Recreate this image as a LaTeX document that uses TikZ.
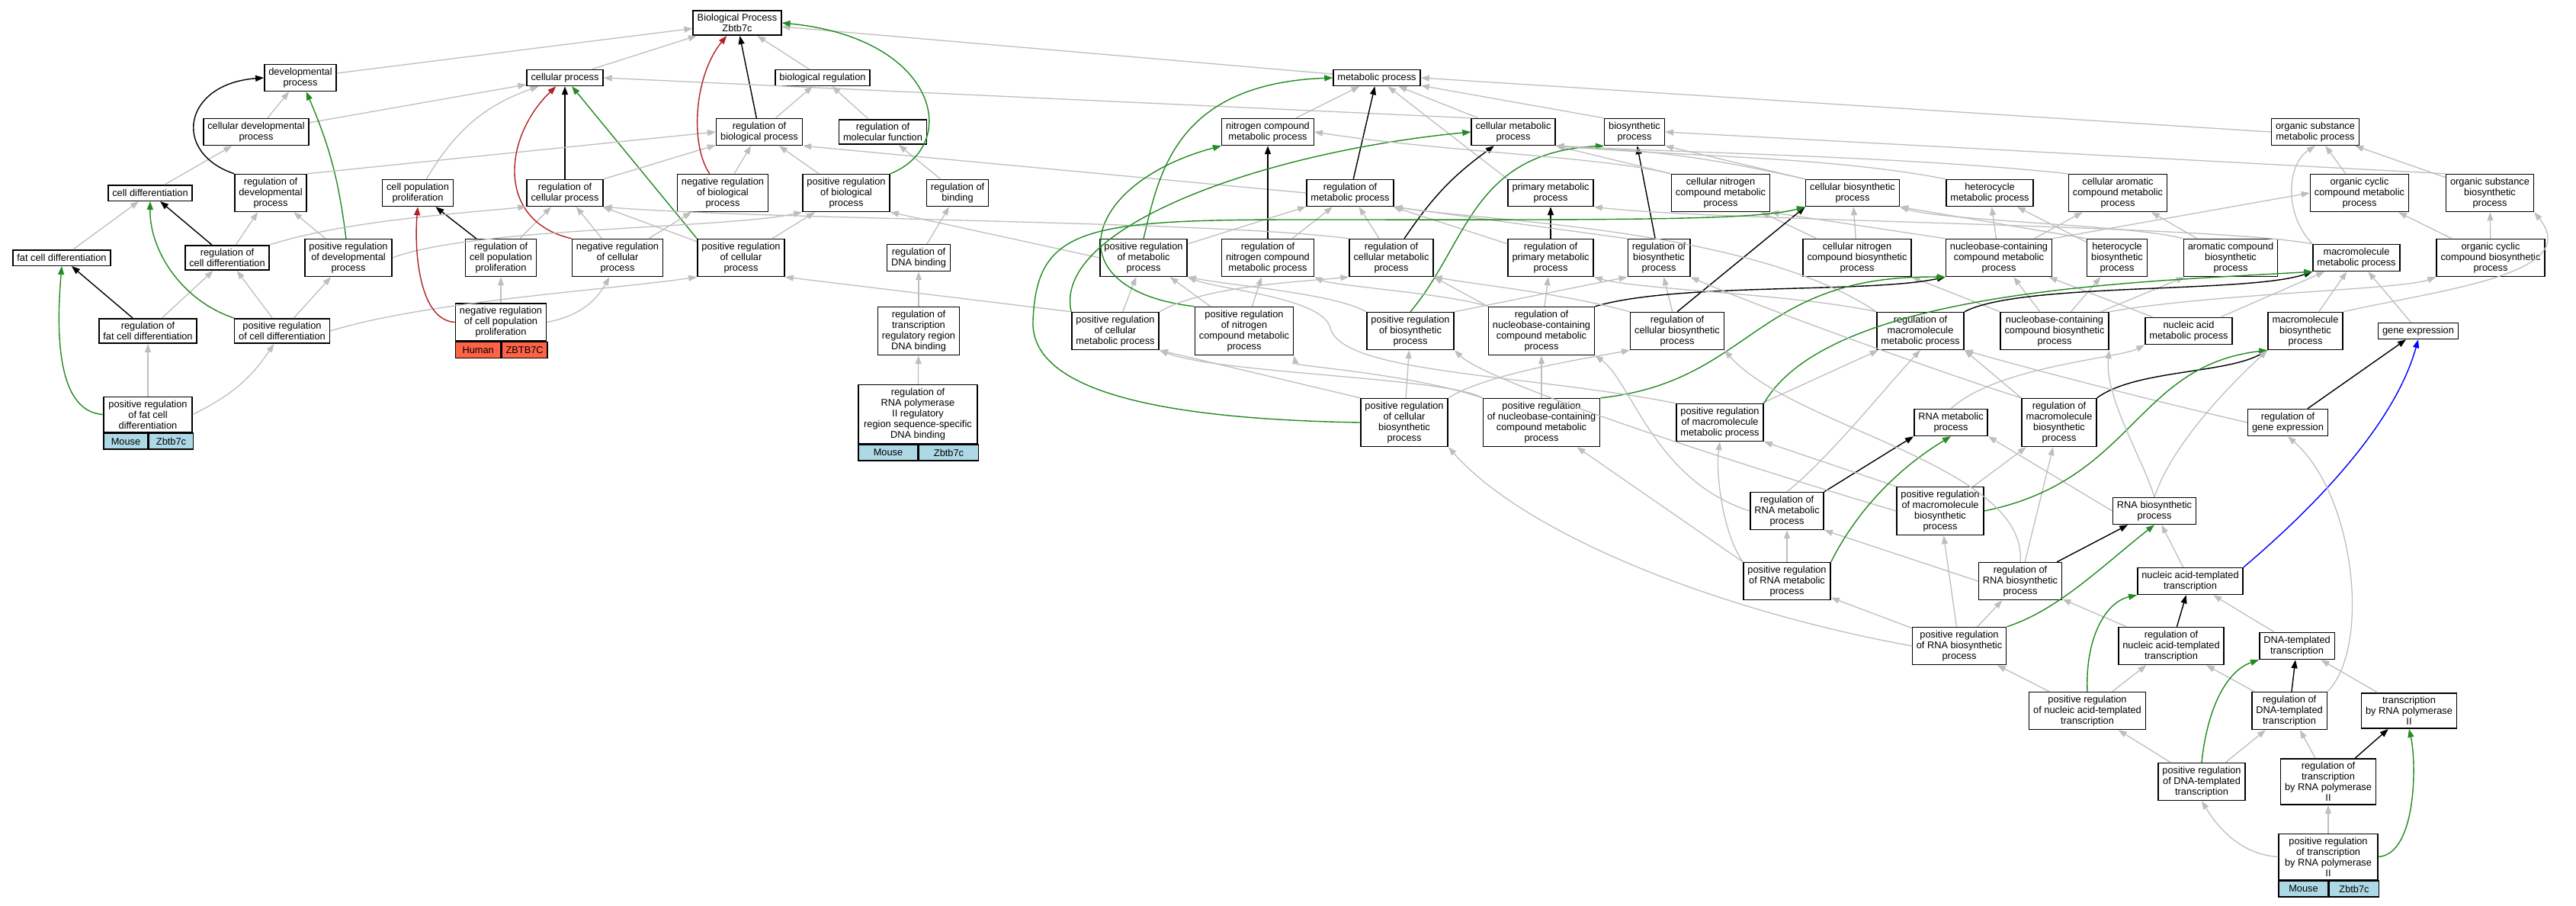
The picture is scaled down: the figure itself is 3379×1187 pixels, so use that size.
\documentclass[tikz,border=0pt]{standalone}
\usepackage{fontspec}
\setmainfont{Liberation Sans}
\usepackage{tikz}
\usetikzlibrary{arrows.meta}
\definecolor{isagray}{RGB}{190,190,190}
\definecolor{posgreen}{RGB}{34,139,34}
\definecolor{negred}{RGB}{178,34,34}
\definecolor{mouse}{RGB}{173,216,230}
\definecolor{human}{RGB}{255,99,71}

\begin{document}
\begin{tikzpicture}[->,>={Triangle[length=11pt,width=8pt]},x=1pt,y=1pt,node distance=150pt]
 \tikzstyle{goterm}=[draw=black,line width=1.5pt,fill=white,rectangle,align=center,inner xsep=5.5pt,inner ysep=4.5pt,minimum height=20.5pt,font=\fontsize{12.8}{14}\selectfont]
 \tikzstyle{taxon}=[draw=black,line width=1.5pt,anchor=north west,minimum height=21pt,inner sep=0pt,font=\fontsize{12.8}{14}\selectfont]
 \tikzstyle{isa}=[draw=isagray,line width=1.3pt]
 \tikzstyle{regl}=[draw=black,line width=1.4pt]
 \tikzstyle{posr}=[draw=posgreen,line width=1.4pt]
 \tikzstyle{negr}=[draw=negred,line width=1.4pt]
 \tikzstyle{prtof}=[draw=blue,line width=1.4pt]

 \useasboundingbox (0,0) rectangle (3379,-1187);

 \node[goterm] (bp) at (967,-30) {Biological Process\\Zbtb7c};

 \node[goterm] (devp) at (394,-102) {developmental\\process};
 \node[goterm] (cellp) [right of=devp, node distance=347pt] {cellular process};
 \node[goterm] (bioreg) [right of=cellp, node distance=338pt] {biological regulation};
 \node[goterm] (metp) [right of=bioreg, node distance=727pt] {metabolic process};

 \node[goterm] (celldev) at (336,-173) {cellular developmental\\process};
 \node[goterm] (regbp) [right of=celldev, node distance=660pt] {regulation of\\biological process};
 \node[goterm] (regmf) [right of=regbp, node distance=162pt] {regulation of\\molecular function};
 \node[goterm] (nitro) [right of=regmf, node distance=505pt] {nitrogen compound\\metabolic process};
 \node[goterm] (cmet) [right of=nitro, node distance=322pt] {cellular metabolic\\process};
 \node[goterm] (biosyn) [right of=cmet, node distance=159pt] {biosynthetic\\process};
 \node[goterm] (orgsub) [right of=biosyn, node distance=893pt] {organic substance\\metabolic process};

 \node[goterm] (celldiff) at (197,-253) {cell differentiation};
 \node[goterm] (regdev) [right of=celldiff, node distance=158pt] {regulation of\\developmental\\process};
 \node[goterm] (cpp) [right of=regdev, node distance=193pt] {cell population\\proliferation};
 \node[goterm] (regcp) [right of=cpp, node distance=193pt] {regulation of\\cellular process};
 \node[goterm] (negbp) [right of=regcp, node distance=207pt] {negative regulation\\of biological\\process};
 \node[goterm] (posbp) [right of=negbp, node distance=162pt] {positive regulation\\of biological\\process};
 \node[goterm] (regbind) [right of=posbp, node distance=146pt] {regulation of\\binding};
 \node[goterm] (regmet) [right of=regbind, node distance=515pt] {regulation of\\metabolic process};
 \node[goterm] (primet) [right of=regmet, node distance=263pt] {primary metabolic\\process};
 \node[goterm] (cnitro) [right of=primet, node distance=223pt] {cellular nitrogen\\compound metabolic\\process};
 \node[goterm] (cbiosyn) [right of=cnitro, node distance=173pt] {cellular biosynthetic\\process};
 \node[goterm] (hetmet) [right of=cbiosyn, node distance=180pt] {heterocycle\\metabolic process};
 \node[goterm] (caromet) [right of=hetmet, node distance=168pt] {cellular aromatic\\compound metabolic\\process};
 \node[goterm] (orgcyc) [right of=caromet, node distance=317pt] {organic cyclic\\compound metabolic\\process};
 \node[goterm] (orgsubbio) [right of=orgcyc, node distance=171pt] {organic substance\\biosynthetic\\process};

 \node[goterm] (fcd) at (81,-338) {fat cell differentiation};
 \node[goterm] (regcd) [right of=fcd, node distance=217pt] {regulation of\\cell differentiation};
 \node[goterm] (posdev) [right of=regcd, node distance=159pt] {positive regulation\\of developmental\\process};
 \node[goterm] (regcpp) [right of=posdev, node distance=200pt] {regulation of\\cell population\\proliferation};
 \node[goterm] (negcp) [right of=regcpp, node distance=153pt] {negative regulation\\of cellular\\process};
 \node[goterm] (poscp) [right of=negcp, node distance=162pt] {positive regulation\\of cellular\\process};
 \node[goterm] (regdnab) [right of=poscp, node distance=233pt] {regulation of\\DNA binding};
 \node[goterm] (posmet) [right of=regdnab, node distance=295pt] {positive regulation\\of metabolic\\process};
 \node[goterm] (regnitro) [right of=posmet, node distance=163pt] {regulation of\\nitrogen compound\\metabolic process};
 \node[goterm] (regcmet) [right of=regnitro, node distance=162pt] {regulation of\\cellular metabolic\\process};
 \node[goterm] (regprim) [right of=regcmet, node distance=209pt] {regulation of\\primary metabolic\\process};
 \node[goterm] (regbio) [right of=regprim, node distance=142pt] {regulation of\\biosynthetic\\process};
 \node[goterm] (cnitrobio) [right of=regbio, node distance=260pt] {cellular nitrogen\\compound biosynthetic\\process};
 \node[goterm] (ncm) [right of=cnitrobio, node distance=186pt] {nucleobase-containing\\compound metabolic\\process};
 \node[goterm] (hetbio) [right of=ncm, node distance=155pt] {heterocycle\\biosynthetic\\process};
 \node[goterm] (arobio) [right of=hetbio, node distance=149pt] {aromatic compound\\biosynthetic\\process};
 \node[goterm] (macmet) [right of=arobio, node distance=165pt] {macromolecule\\metabolic process};
 \node[goterm] (orgcycbio) [right of=macmet, node distance=176pt] {organic cyclic\\compound biosynthetic\\process};

 \node[goterm] (regfcd) at (194,-434) {regulation of\\fat cell differentiation};
 \node[goterm] (poscd) [right of=regfcd, node distance=176pt] {positive regulation\\of cell differentiation};
 \node[goterm,minimum width=119pt] (negcpp) at (657,-422.5) {negative regulation\\of cell population\\proliferation};
 \node[taxon,fill=human,minimum width=59.5pt] (negcppsp) at (negcpp.south west) {Human};
 \node[taxon,fill=human,minimum width=59.5pt] (negcppgn) at (negcppsp.north east) {ZBTB7C};
 \node[goterm] (regtrbind) at (1205,-434) {regulation of\\transcription\\regulatory region\\DNA binding};
 \node[goterm] (poscmet) [right of=regtrbind, node distance=258pt] {positive regulation\\of cellular\\metabolic process};
 \node[goterm] (posnitro) [right of=poscmet, node distance=169pt] {positive regulation\\of nitrogen\\compound metabolic\\process};
 \node[goterm] (posbio) [right of=posnitro, node distance=218pt] {positive regulation\\of biosynthetic\\process};
 \node[goterm] (regncm) [right of=posbio, node distance=172pt] {regulation of\\nucleobase-containing\\compound metabolic\\process};
 \node[goterm] (regcbio) [right of=regncm, node distance=178pt] {regulation of\\cellular biosynthetic\\process};
 \node[goterm] (regmacmet) [right of=regcbio, node distance=319pt] {regulation of\\macromolecule\\metabolic process};
 \node[goterm] (ncmbio) [right of=regmacmet, node distance=176pt] {nucleobase-containing\\compound biosynthetic\\process};
 \node[goterm] (nucmet) [right of=ncmbio, node distance=176pt] {nucleic acid\\metabolic process};
 \node[goterm] (macbio) [right of=nucmet, node distance=153pt] {macromolecule\\biosynthetic\\process};
 \node[goterm] (geneexp) [right of=macbio, node distance=148pt] {gene expression};

 \node[goterm,minimum width=116pt] (posfcd) at (194,-543.5) {positive regulation\\of fat cell\\differentiation};
 \node[taxon,fill=mouse,minimum width=58pt] (posfcdsp) at (posfcd.south west) {Mouse};
 \node[taxon,fill=mouse,minimum width=58pt] (posfcdgn) at (posfcdsp.north east) {Zbtb7c};
 \node[goterm,minimum width=156pt] (regpol) at (1204,-543) {regulation of\\RNA polymerase\\II regulatory\\region sequence-specific\\DNA binding};
 \node[taxon,fill=mouse,minimum width=78pt] (regpolsp) at (regpol.south west) {Mouse};
 \node[taxon,fill=mouse,minimum width=78pt] (regpolgn) at (regpolsp.north east) {Zbtb7c};
 \node[goterm] (poscbio) at (1842,-554) {positive regulation\\of cellular\\biosynthetic\\process};
 \node[goterm] (posncm) [right of=poscbio, node distance=180pt] {positive regulation\\of nucleobase-containing\\compound metabolic\\process};
 \node[goterm] (posmacmet) [right of=posncm, node distance=234pt] {positive regulation\\of macromolecule\\metabolic process};
 \node[goterm] (rnamet) [right of=posmacmet, node distance=303pt] {RNA metabolic\\process};
 \node[goterm] (regmacbio) [right of=rnamet, node distance=142pt] {regulation of\\macromolecule\\biosynthetic\\process};
 \node[goterm] (reggene) [right of=regmacbio, node distance=300pt] {regulation of\\gene expression};

 \node[goterm] (regrnamet) at (2344,-670) {regulation of\\RNA metabolic\\process};
 \node[goterm] (posmacbio) [right of=regrnamet, node distance=201pt] {positive regulation\\of macromolecule\\biosynthetic\\process};
 \node[goterm] (rnabio) [right of=posmacbio, node distance=281pt] {RNA biosynthetic\\process};

 \node[goterm] (posrnamet) [below of=regrnamet, node distance=92pt] {positive regulation\\of RNA metabolic\\process};
 \node[goterm] (regrnabio) [right of=posrnamet, node distance=306pt] {regulation of\\RNA biosynthetic\\process};
 \node[goterm] (natr) [right of=regrnabio, node distance=223pt] {nucleic acid-templated\\transcription};

 \node[goterm] (posrnabio) at (2570,-847) {positive regulation\\of RNA biosynthetic\\process};
 \node[goterm] (regnatr) [right of=posrnabio, node distance=278pt] {regulation of\\nucleic acid-templated\\transcription};
 \node[goterm] (dnatr) [right of=regnatr, node distance=165pt] {DNA-templated\\transcription};

 \node[goterm] (posnatr) at (2738,-932) {positive regulation\\of nucleic acid-templated\\transcription};
 \node[goterm] (regdnatr) [right of=posnatr, node distance=265pt] {regulation of\\DNA-templated\\transcription};
 \node[goterm] (trpol) [right of=regdnatr, node distance=157pt] {transcription\\by RNA polymerase\\II};

 \node[goterm] (posdnatr) at (2888,-1025) {positive regulation\\of DNA-templated\\transcription};
 \node[goterm] (regtrpol) [right of=posdnatr, node distance=166pt] {regulation of\\transcription\\by RNA polymerase\\II};

 \node[goterm,minimum width=130pt] (postrpol) [below of=regtrpol, node distance=98.5pt] {positive regulation\\of transcription\\by RNA polymerase\\II};
 \node[taxon,fill=mouse,minimum width=65pt] (postrpolsp) at (postrpol.south west) {Mouse};
 \node[taxon,fill=mouse,minimum width=65pt] (postrpolgn) at (postrpolsp.north east) {Zbtb7c};

 \path[->]
   (devp) edge[isa] (bp)
   (cellp) edge[isa] (bp)
   (bioreg) edge[isa] (bp)
   (metp) edge[isa] (bp)
   (regbp) edge[regl] (bp)
   (celldev) edge[isa] (devp)
   (celldev) edge[isa] (cellp)
   (posdev) edge[posr,bend right=8] (devp)
   (cpp) edge[isa,bend left=20] (cellp)
   (regcp) edge[regl] (cellp)
   (poscp.north west) edge[posr] (cellp)
   (cmet.north west) edge[isa] (cellp.east)
   (regbp) edge[isa] (bioreg)
   (regmf) edge[isa] (bioreg)
   (celldiff) edge[isa] (celldev)
   (regdev.north east) edge[isa] (regbp.west)
   (regcp.north east) edge[isa] (regbp)
   (negbp) edge[isa] (regbp)
   (posbp) edge[isa] (regbp)
   (regmet.west) edge[isa] (regbp.south east)
   (regbind) edge[isa] (regmf)
   (fcd) edge[isa] (celldiff)
   (regcd) edge[regl] (celldiff)
   (regcd) edge[isa] (regdev)
   (posdev) edge[isa] (regdev)
   (regcpp) edge[regl] (cpp)
   (regcpp) edge[isa] (regcp)
   (negcp) edge[isa] (regcp)
   (negcp) edge[isa] (negbp)
   (poscp) edge[isa] (regcp)
   (poscp) edge[isa] (posbp)
   (regdnab) edge[isa] (regbind)
   (regfcd) edge[regl] (fcd)
   (regfcd) edge[isa] (regcd)
   (poscd) edge[isa] (regcd)
   (poscd) edge[isa] (posdev)
   (negcpp) edge[isa] (regcpp)
   (negcpp.east) edge[isa,bend right=25] (negcp)
   (posfcd) edge[isa] (regfcd)
   (posfcd.east) edge[isa,bend right=15] (poscd)
   (regtrbind) edge[isa] (regdnab)
   (regpol) edge[isa] (regtrbind);

 \draw[negr] (negbp) .. controls (905,-190) and (910,-100) .. (bp);
 \draw[posr] (posbp.north east) .. controls (1262,-190) and (1230,-50) .. (bp.east);
 \draw[regl] (regdev.north west) .. controls (225,-200) and (240,-110) .. (devp.west);
 \draw[negr] (negcp.north west) .. controls (650,-290) and (660,-180) .. (cellp);
 \draw[isa] (regcd.north east) .. controls (450,-290) and (600,-280) .. (regcp.south west);
 \draw[posr] (poscd.north west) .. controls (240,-395) and (196,-330) .. (celldiff.south);
 \draw[isa] (posdev.east) .. controls (620,-298) and (950,-300) .. (posbp.south west);
 \draw[isa] (poscd.east) .. controls (560,-395) and (800,-380) .. (poscp.south west);
 \draw[negr] (negcpp.west) .. controls (550,-420) and (543,-330) .. (cpp.south);
 \draw[posr] (posfcd.west) .. controls (70,-540) and (75,-420) .. (fcd.south);

 \path[->]
   (nitro) edge[isa] (metp)
   (regmet) edge[regl] (metp)
   (primet.north west) edge[isa] (metp)
   (cmet) edge[isa] (metp)
   (biosyn.north west) edge[isa] (metp)
   (orgsub.west) edge[isa] (metp.east)
   (regnitro) edge[regl] (nitro)
   (regcmet) edge[regl,bend left=10] (cmet)
   (regbio) edge[regl] (biosyn)
   (cnitro.north west) edge[isa] (cmet.south east)
   (cbiosyn.north west) edge[isa] (biosyn.south east)
   (cbiosyn.north west) edge[isa,bend right=5] (cmet.south east)
   (orgsubbio.north west) edge[isa] (biosyn.east)
   (orgsubbio) edge[isa] (orgsub)
   (orgcyc) edge[isa] (orgsub)
   (regprim) edge[regl] (primet)
   (posmet) edge[isa] (regmet)
   (posmet.west) edge[isa] (posbp.south east)
   (regnitro) edge[isa] (regmet)
   (regcmet) edge[isa] (regmet)
   (regprim) edge[isa] (regmet)
   (regbio.north west) edge[isa] (regmet.south east)
   (cnitrobio) edge[isa] (cnitro)
   (cnitrobio) edge[isa] (cbiosyn)
   (ncm.north west) edge[isa] (cnitro.south east)
   (ncm) edge[isa] (hetmet)
   (ncm) edge[isa] (caromet)
   (ncm.north east) edge[isa] (orgcyc.west)
   (hetbio) edge[isa] (hetmet)
   (hetbio.north west) edge[isa] (cbiosyn.south east)
   (arobio) edge[isa] (caromet)
   (orgcycbio) edge[isa] (orgcyc)
   (orgcycbio) edge[isa] (orgsubbio)
   (poscmet) edge[isa] (posmet)
   (poscmet.north west) edge[isa] (poscp.south east)
   (posnitro) edge[isa] (regnitro)
   (posnitro) edge[isa] (posmet)
   (posbio.north east) edge[isa] (regbio.south west)
   (regncm.north west) edge[isa] (regcmet.south east)
   (regncm) edge[isa] (regprim)
   (regcbio) edge[isa] (regbio)
   (regcbio.north) edge[regl] (cbiosyn.south west)
   (ncmbio) edge[isa] (ncm)
   (ncmbio) edge[isa] (hetbio)
   (ncmbio) edge[isa] (arobio)
   (ncmbio.north west) edge[isa] (cnitrobio.south east)
   (nucmet) edge[isa] (ncm)
   (nucmet) edge[isa] (macmet)
   (macbio) edge[isa] (macmet)
   (geneexp) edge[isa] (macmet);

 \draw[posr] (posmet.north) .. controls (1520,-230) and (1540,-110) .. (metp.west);
 \draw[posr] (posnitro.north west) .. controls (1380,-380) and (1420,-240) .. (nitro.south west);
 \draw[posr] (poscmet.north west) .. controls (1380,-300) and (1650,-200) .. (cmet.west);
 \draw[posr] (posbio.north) .. controls (1925,-320) and (1930,-200) .. (biosyn.south west);
 \draw[isa] (cnitro.north west) .. controls (2100,-205) and (1900,-200) .. (nitro.east);
 \draw[isa] (hetmet.north west) .. controls (2400,-205) and (2200,-205) .. (cmet.south east);
 \draw[isa] (caromet.north west) .. controls (2500,-205) and (2200,-200) .. (cmet.south east);
 \draw[isa] (macmet.north west) .. controls (2900,-295) and (2250,-290) .. (primet.south east);
 \draw[isa] (macmet.north west) .. controls (2995,-280) and (3000,-215) .. (orgsub.south);
 \draw[isa] (regcmet.north west) .. controls (1600,-290) and (1000,-288) .. (regcp.south east);
 \draw[isa] (arobio.north west) .. controls (2800,-295) and (2550,-290) .. (cbiosyn.south east);
 \draw[isa] (poscmet.north east) .. controls (1580,-375) and (1700,-370) .. (regcmet.south west);
 \draw[isa] (posbio.north west) .. controls (1750,-385) and (1620,-375) .. (posmet.south east);
 \draw[regl] (regncm.north east) .. controls (2200,-370) and (2450,-385) .. (ncm.south west);
 \draw[isa] (regncm.north west) .. controls (1900,-385) and (1750,-375) .. (regnitro.south east);
 \draw[isa] (regcbio.north west) .. controls (2050,-385) and (1950,-375) .. (regcmet.south east);
 \draw[regl] (regmacmet.north east) .. controls (2650,-370) and (2950,-385) .. (macmet.south west);
 \draw[isa] (regmacmet.north west) .. controls (2350,-385) and (2150,-380) .. (regprim.south east);
 \draw[isa] (regmacmet.north west) .. controls (2300,-300) and (1950,-290) .. (regmet.south east);
 \draw[isa] (ncmbio.north east) .. controls (2900,-385) and (3150,-380) .. (orgcycbio.south west);
 \draw[isa] (macbio.north east) .. controls (3200,-380) and (3390,-360) .. (orgsubbio.south east);

 \path[->]
   (poscbio) edge[isa] (posbio)
   (poscbio.north west) edge[isa] (poscmet.south east)
   (posncm) edge[isa] (regncm)
   (posmacmet) edge[isa] (regmacmet)
   (regmacbio.north west) edge[isa] (regmacmet.south east)
   (reggene) edge[regl] (geneexp)
   (regrnamet.north east) edge[regl] (rnamet.south west)
   (posmacbio) edge[isa] (regmacbio)
   (posmacbio.north west) edge[isa] (posmacmet.south east)
   (rnabio.west) edge[isa] (rnamet.south east)
   (posrnamet) edge[isa] (regrnamet)
   (posrnamet.north west) edge[isa] (posncm)
   (regrnabio) edge[regl] (rnabio)
   (regrnabio.west) edge[isa] (regrnamet.south east)
   (regrnabio) edge[isa] (regmacbio)
   (natr) edge[isa] (rnabio)
   (posrnabio) edge[isa] (regrnabio)
   (posrnabio) edge[isa] (posrnamet)
   (posrnabio) edge[isa] (posmacbio)
   (regnatr) edge[regl] (natr)
   (regnatr) edge[isa] (regrnabio)
   (dnatr) edge[isa] (natr)
   (posnatr) edge[isa] (regnatr)
   (posnatr) edge[isa] (posrnabio)
   (regdnatr) edge[regl] (dnatr)
   (regdnatr) edge[isa] (regnatr)
   (trpol) edge[isa] (dnatr)
   (posdnatr) edge[isa] (regdnatr)
   (posdnatr) edge[isa] (posnatr)
   (regtrpol) edge[regl] (trpol)
   (regtrpol) edge[isa] (regdnatr)
   (postrpol) edge[isa] (regtrpol);

 \draw[posr] (poscbio.west) .. controls (1550,-550) and (1350,-520) .. (1355,-420) .. controls (1360,-300) and (1420,-288) .. (1700,-288) .. controls (2100,-288) and (2300,-290) .. (cbiosyn.south west);
 \draw[isa] (poscbio.north east) .. controls (1950,-490) and (2080,-470) .. (regcbio.south west);
 \draw[posr] (posncm.north east) .. controls (2300,-500) and (2300,-360) .. (ncm.south west);
 \draw[isa] (posncm.north west) .. controls (1900,-495) and (1600,-490) .. (poscmet.south east);
 \draw[isa] (posncm.north west) .. controls (1850,-490) and (1700,-480) .. (posnitro.south east);
 \draw[posr] (posmacmet.north east) .. controls (2400,-380) and (2800,-370) .. (macmet.south west);
 \draw[isa] (posmacmet.north west) .. controls (2000,-490) and (1760,-490) .. (1745,-430) .. controls (1735,-390) and (1600,-380) .. (posmet.south east);
 \draw[isa] (rnamet.north) .. controls (2620,-480) and (2780,-470) .. (nucmet.south west);
 \draw[regl] (regmacbio.north east) .. controls (2800,-485) and (2920,-490) .. (macbio.south west);
 \draw[isa] (regmacbio.north west) .. controls (2550,-490) and (2300,-400) .. (regbio.south east);
 \draw[isa] (reggene.west) .. controls (2800,-520) and (2650,-480) .. (regmacmet.south east);
 \draw[isa] (regrnamet.west) .. controls (2170,-630) and (2140,-500) .. (regncm.south east);
 \draw[isa] (regrnamet.north) .. controls (2400,-600) and (2480,-500) .. (regmacmet.south);
 \draw[posr] (posmacbio.east) .. controls (2800,-630) and (2800,-480) .. (macbio.south west);
 \draw[isa] (posmacbio.west) .. controls (2250,-600) and (1950,-500) .. (posbio.south east);
 \draw[isa] (rnabio.north) .. controls (2810,-600) and (2760,-520) .. (ncmbio.south east);
 \draw[isa] (rnabio.north) .. controls (2850,-580) and (2930,-500) .. (macbio.south west);
 \draw[posr] (posrnamet.north east) .. controls (2430,-680) and (2480,-620) .. (rnamet.south);
 \draw[isa] (posrnamet.north west) .. controls (2260,-700) and (2250,-620) .. (posmacmet.south);
 \draw[isa] (regrnabio.north) .. controls (2660,-610) and (2350,-560) .. (regcbio.south east);
 \draw[prtof] (natr.north east) .. controls (3030,-670) and (3140,-560) .. (geneexp.south);
 \draw[posr] (posrnabio.north east) .. controls (2700,-800) and (2760,-740) .. (rnabio.south);
 \draw[isa] (posrnabio.west) .. controls (2250,-800) and (2000,-700) .. (poscbio.south east);
 \draw[posr] (posnatr.north) .. controls (2735,-840) and (2760,-790) .. (natr.south west);
 \draw[isa] (regdnatr.north east) .. controls (3110,-850) and (3090,-650) .. (reggene.south);
 \draw[posr] (posdnatr.north) .. controls (2895,-930) and (2920,-880) .. (dnatr.south west);
 \draw[posr] (postrpol.east) .. controls (3170,-1120) and (3170,-1000) .. (trpol.south);
 \draw[isa] (postrpol.west) .. controls (2930,-1120) and (2900,-1070) .. (posdnatr.south);

\end{tikzpicture}
\end{document}
